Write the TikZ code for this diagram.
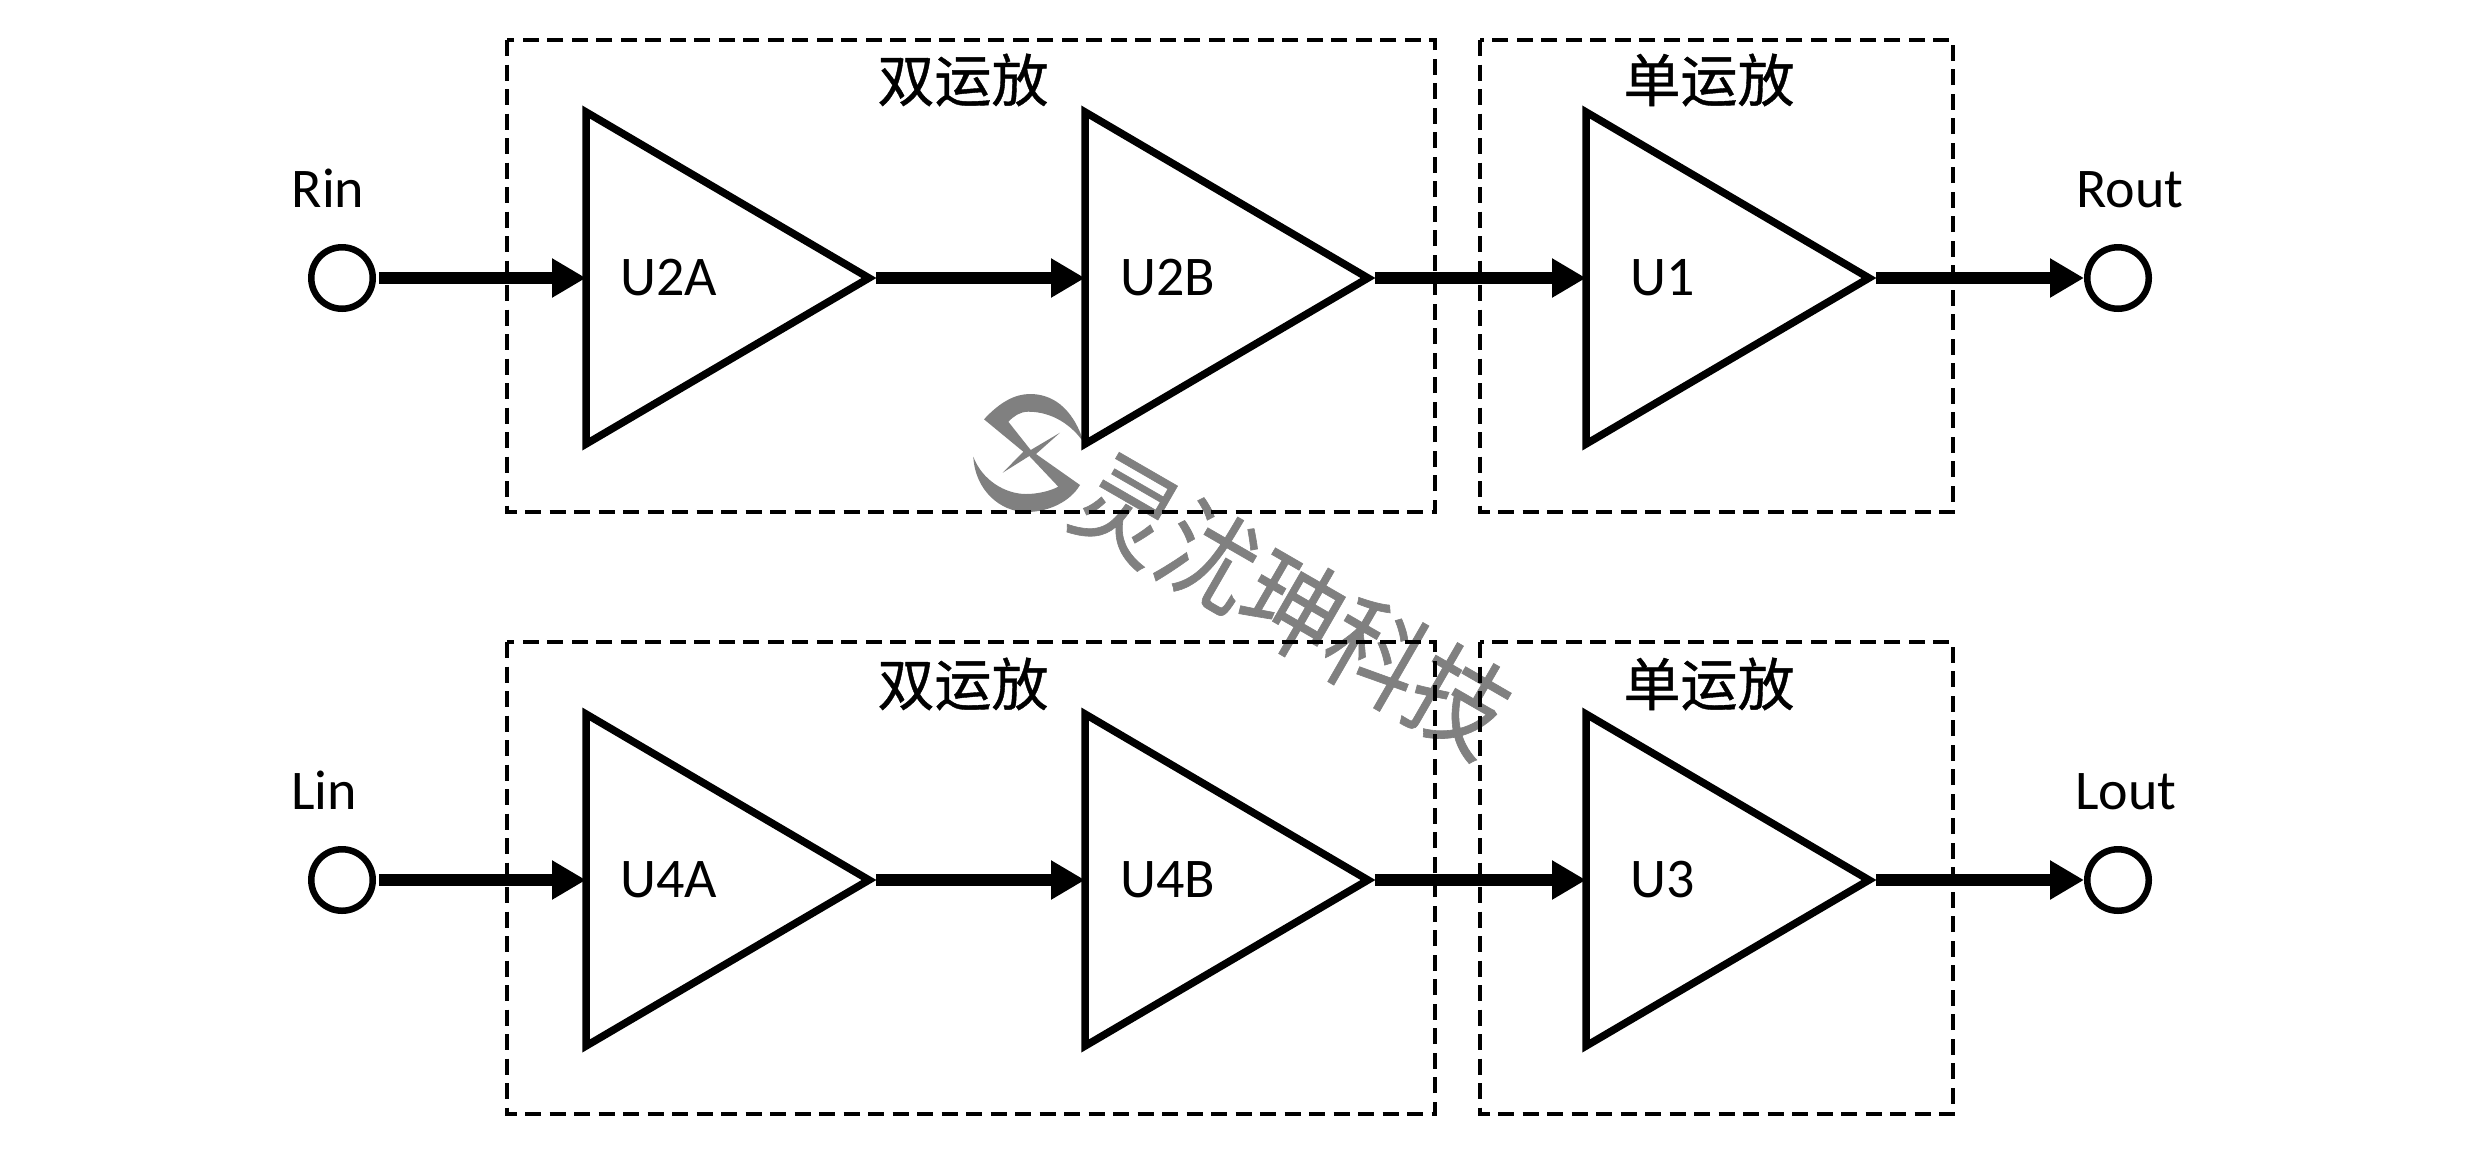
\documentclass[tikz,border=0pt]{standalone}
\usepackage{fontspec}
\setmainfont{Carlito}
\newfontfamily\cjk[FakeBold=0.7]{Noto Sans CJK SC}
\newfontfamily\cjkwm[FakeBold=0.6]{Noto Sans CJK SC}
\usetikzlibrary{arrows.meta}
\tikzset{
  ampbody/.style={draw=black,line width=7.5pt,line join=miter,miter limit=10,fill=white},
  groupbox/.style={draw=black,line width=3.5pt,dash pattern=on 16pt off 8.5pt},
  port/.style={circle,draw=black,line width=6.5pt,fill=white,minimum size=61.5pt,inner sep=0pt},
  latin/.style={font=\fontsize{56pt}{60pt}\selectfont,inner sep=0pt,text=black},
  grouplabel/.style={font=\cjk\fontsize{57pt}{62pt}\selectfont,inner sep=0pt,anchor=center,text=black},
  wire/.style={line width=12pt,-{Triangle[length=34pt,width=37pt]},black},
  wmshape/.style={fill=black!50,draw=none},
}
\newcommand{\ampblock}[5]{% name, left x, centre y, label, label offset
  \path[ampbody] (#2,#3-166) -- (#2+283,#3) -- (#2,#3+166) -- cycle;
  \coordinate (#1in) at (#2,#3);
  \coordinate (#1out) at (#2+290,#3);
  \node[latin,anchor=base west] (#1label) at (#2+#5,#3+17) {#4};
}
\begin{document}
\begin{tikzpicture}[x=1pt,y=-1pt]
\useasboundingbox[fill=white] (0,0) rectangle (2480,1152);
% watermark
\path[wmshape] (984,419.3) .. controls (1000,402) and (1015,394) .. (1030,394)
  .. controls (1050,394) and (1072,405) .. (1084,443)
  .. controls (1072,425) and (1052,411.7) .. (1028.3,411.7)
  .. controls (1020,411.7) and (1014,416) .. (1008.3,421.7)
  -- (1030.7,450) -- (1060,432.7) -- (1036,454)
  -- (1080,485)
  .. controls (1070,502) and (1048,512) .. (1026.7,512)
  .. controls (1000,512) and (975,490) .. (973.3,456.7)
  .. controls (982,480) and (1005,494) .. (1026,494)
  .. controls (1038,494) and (1050,491) .. (1058.3,486.7)
  -- (1029.3,456) -- (1002.7,472.7) -- (1023.3,451.7)
  -- cycle;
\node[rotate=-30,yscale=1.12,inner sep=0pt,text=black!50,font=\cjkwm\fontsize{96pt}{100pt}\selectfont] (wm) at (1293,605) {灵沋珅科技};
% group boxes
\draw[groupbox] (507,40) rectangle (1435,512);
\draw[groupbox] (1480,40) rectangle (1953,512);
\draw[groupbox] (507,642) rectangle (1435,1114);
\draw[groupbox] (1480,642) rectangle (1953,1114);
\node[grouplabel] (g1) at (963,80) {双运放};
\node[grouplabel] (g2) at (1709,80) {单运放};
\node[grouplabel] (g3) at (963,684) {双运放};
\node[grouplabel] (g4) at (1709,684) {单运放};
% amplifiers
\ampblock{a}{586}{278}{U2A}{34}
\ampblock{b}{1085}{278}{U2B}{35}
\ampblock{c}{1586}{278}{U1}{44}
\ampblock{d}{586}{880}{U4A}{34}
\ampblock{e}{1085}{880}{U4B}{35}
\ampblock{f}{1586}{880}{U3}{44}
% ports
\node[port] (rin) at (342,278) {};
\node[port] (rout) at (2118,278) {};
\node[port] (lin) at (342,880) {};
\node[port] (lout) at (2118,880) {};
\node[latin,anchor=base] (trin) at (328,207) {Rin};
\node[latin,anchor=base] (trout) at (2130,207) {Rout};
\node[latin,anchor=base] (tlin) at (324,809) {Lin};
\node[latin,anchor=base] (tlout) at (2126,809) {Lout};
% connectors
\draw[wire,shorten <=3pt] (rin.east) -- (ain);
\draw[wire] (aout) -- (bin);
\draw[wire] (bout) -- (cin);
\draw[wire] (cout) -- (rout.west);
\draw[wire,shorten <=3pt] (lin.east) -- (din);
\draw[wire] (dout) -- (ein);
\draw[wire] (eout) -- (fin);
\draw[wire] (fout) -- (lout.west);
\end{tikzpicture}
\end{document}
